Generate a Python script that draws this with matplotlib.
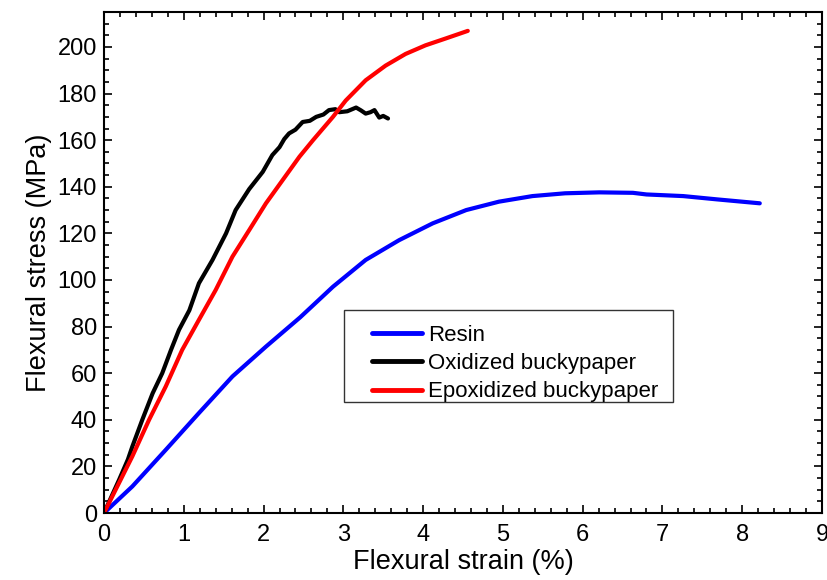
import matplotlib
matplotlib.use("Agg")
import matplotlib.pyplot as plt
from matplotlib.ticker import MultipleLocator
from matplotlib.patches import Rectangle

plt.rcParams['font.family'] = ['Liberation Sans', 'DejaVu Sans']

# Resin (blue)
resin_x = [0.0, 0.355, 0.774, 1.19, 1.61, 2.03, 2.46, 2.87, 3.28, 3.70, 4.12, 4.54,
           4.95, 5.37, 5.78, 6.21, 6.63, 6.80, 7.26, 7.68, 8.22]
resin_y = [0.0, 11.4, 27.1, 42.9, 58.6, 71.4, 84.0, 97.1, 108.6, 117.1, 124.3, 130.0,
           133.6, 136.0, 137.2, 137.6, 137.4, 136.7, 136.0, 134.6, 132.9]

# Oxidized buckypaper (black)
oxi_x = [0.0, 0.19, 0.30, 0.355, 0.48, 0.61, 0.73, 0.84, 0.94, 1.07, 1.19, 1.36, 1.53,
         1.65, 1.82, 1.99, 2.11, 2.20, 2.26, 2.32, 2.40, 2.49, 2.58, 2.66, 2.75, 2.82,
         2.90, 2.95, 3.05, 3.16, 3.22, 3.28, 3.34, 3.39, 3.45, 3.50, 3.56]
oxi_y = [0.0, 14.3, 23.0, 28.5, 40.0, 51.4, 60.0, 70.0, 78.6, 87.0, 98.6, 108.6, 120.0,
         130.0, 139.0, 146.4, 153.6, 157.0, 160.5, 162.9, 164.5, 167.8, 168.3, 170.0,
         171.0, 172.9, 173.3, 172.0, 172.4, 174.0, 172.8, 171.4, 172.0, 172.9, 169.7,
         170.4, 169.3]

# Epoxidized buckypaper (red)
epo_x = [0.0, 0.355, 0.565, 0.774, 0.98, 1.19, 1.40, 1.61, 1.82, 2.03, 2.24, 2.45,
         2.62, 2.87, 3.03, 3.28, 3.53, 3.78, 4.03, 4.28, 4.56]
epo_y = [0.0, 24.3, 40.0, 54.3, 70.0, 82.9, 95.7, 110.0, 121.4, 132.9, 142.9, 152.9,
         160.0, 170.0, 177.0, 185.7, 192.0, 197.0, 200.7, 203.6, 206.9]

labels = ['Resin', 'Oxidized buckypaper', 'Epoxidized buckypaper']
colors = ['#0000ff', '#000000', '#ff0000']

fig = plt.figure(figsize=(8.27, 5.80), dpi=100)
ax = fig.add_axes([104/827, 67/580, 718/827, 501/580])

for xs, ys, lab, c in zip([resin_x, oxi_x, epo_x], [resin_y, oxi_y, epo_y], labels, colors):
    ax.plot(xs, ys, color=c, lw=3.0, label=lab, solid_joinstyle='round',
            solid_capstyle='round')

ax.set_xlim(0, 9)
ax.set_ylim(0, 215)
ax.xaxis.set_major_locator(MultipleLocator(1))
ax.xaxis.set_minor_locator(MultipleLocator(0.2))
ax.yaxis.set_major_locator(MultipleLocator(20))
ax.yaxis.set_minor_locator(MultipleLocator(5))
ax.tick_params(which='both', direction='in', top=True, right=True, width=1.2)
ax.tick_params(which='major', length=6, labelsize=17)
ax.tick_params(which='minor', length=3.5)
ax.tick_params(axis='x', which='major', pad=8)
ax.tick_params(axis='y', which='major', pad=5)
for s in ax.spines.values():
    s.set_linewidth(1.5)

ax.set_xlabel('Flexural strain (%)', fontsize=19.5, labelpad=2)
ax.set_ylabel('Flexural stress (MPa)', fontsize=19.5, labelpad=4)

# legend frame drawn separately
frame = Rectangle((0.334, 0.2216), 0.458, 0.184, transform=ax.transAxes,
                  facecolor='white', edgecolor='#333333', lw=1.0, zorder=4)
ax.add_patch(frame)
leg = ax.legend(loc='center left', bbox_to_anchor=(0.3733, 0.2984),
                fontsize=16, frameon=False, handlelength=2.25, handletextpad=0.27,
                borderpad=0, labelspacing=0.33, borderaxespad=0)
leg.set_zorder(5)
for line in leg.get_lines():
    line.set_linewidth(3.5)

fig.savefig('out.png', dpi=100)
